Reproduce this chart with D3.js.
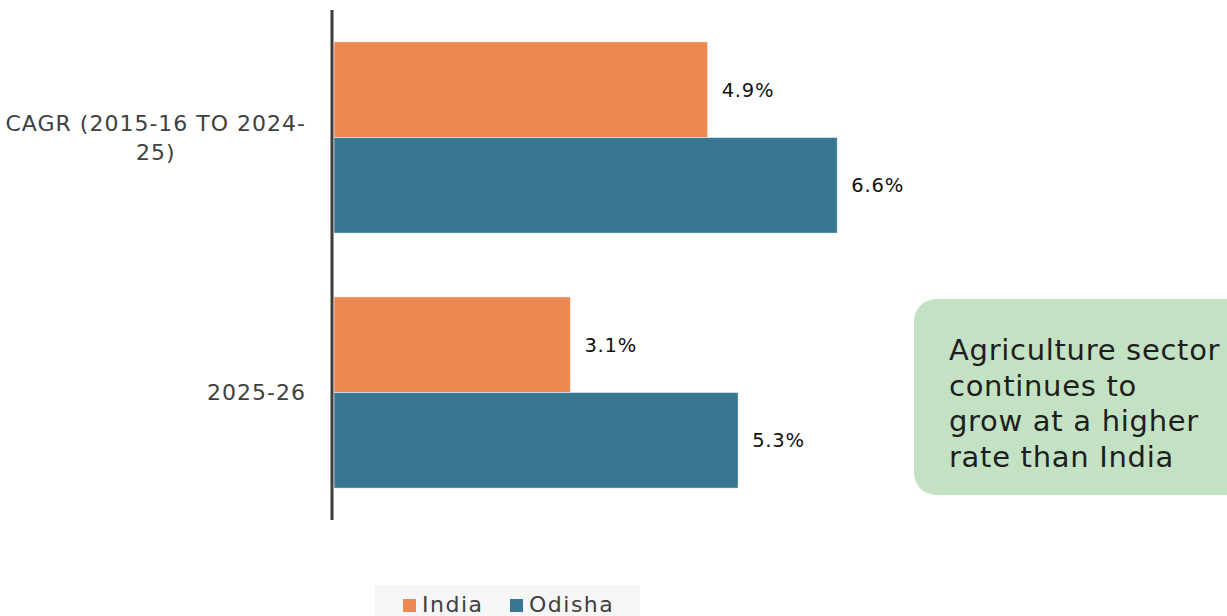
<!DOCTYPE html>
<html lang="en">
<head>
  <meta charset="UTF-8">
  <title>Agriculture growth: India vs Odisha</title>
  <style type="text/css">
    html, body { margin: 0; padding: 0; background: #fff; }
    svg { display: block; font-family: "DejaVu Sans", "Open Sans", sans-serif; }
  </style>
</head>
<body>
<div id="chart"></div>
<script src="https://cdn.jsdelivr.net/npm/d3@7"></script>
<script type="text/javascript">
  // chart values
  var categories = ["CAGR (2015-16 TO 2024-25)", "2025-26"];
  var seriesNames = ["India", "Odisha"];
  var indiaValues = [4.9, 3.1];
  var odishaValues = [6.6, 5.3];
  var note = ["Agriculture sector", "continues to", "grow at a higher", "rate than India"];

  var width = 1227, height = 616;
  var colors = {India: "#ec8851", Odisha: "#377792"};

  var rows = categories.map(function(c, i) {
    return {category: c, India: indiaValues[i], Odisha: odishaValues[i]};
  });

  var svg = d3.select("#chart").append("svg")
    .attr("width", width)
    .attr("height", height);

  var x = d3.scaleLinear().domain([0, 8]).range([334, 944]);
  var y = d3.scaleBand().domain(categories).range([10, 520])
    .paddingInner(0.25).paddingOuter(0.125);
  var ySub = d3.scaleBand().domain(seriesNames).range([0, y.bandwidth()]);

  // bars
  var groups = svg.selectAll("g.group")
    .data(rows)
    .join("g")
    .attr("class", "group")
    .attr("transform", function(d) { return "translate(0," + y(d.category) + ")"; });

  var bars = groups.selectAll("g.bar")
    .data(function(d) { return seriesNames.map(function(s) { return {key: s, value: d[s]}; }); })
    .join("g")
    .attr("class", "bar");

  bars.append("rect")
    .attr("x", x(0))
    .attr("y", function(d) { return ySub(d.key); })
    .attr("width", function(d) { return x(d.value) - x(0); })
    .attr("height", ySub.bandwidth())
    .attr("fill", function(d) { return colors[d.key]; })
    .attr("stroke", "#ffffff")
    .attr("stroke-opacity", 0.5)
    .attr("stroke-width", 1);

  bars.append("text")
    .attr("x", function(d) { return x(d.value) + 14; })
    .attr("y", function(d) { return ySub(d.key) + ySub.bandwidth() / 2; })
    .attr("dy", "0.35em")
    .attr("font-size", 19.5)
    .attr("letter-spacing", 0.8)
    .attr("fill", "#111")
    .text(function(d) { return d.value.toFixed(1) + "%"; });

  // category axis
  var yAxis = svg.append("g")
    .attr("transform", "translate(332,0)")
    .call(d3.axisLeft(y).tickSize(0).tickPadding(26).tickFormat(""));
  yAxis.select(".domain")
    .attr("d", "M0,10V520")
    .attr("stroke", "#3d3d3d")
    .attr("stroke-width", 3);

  // wrapped labels: block right-aligned, lines centred inside it
  function wrapWords(text) {
    return text.match(/[^\s-]+-?\s*/g);
  }
  var labelFont = 22, labelSpacing = 1, maxW = 305, lineH = 29;
  var measure = svg.append("text").attr("font-size", labelFont)
    .attr("letter-spacing", labelSpacing).attr("visibility", "hidden");
  function textW(s) { measure.text(s); return measure.node().getComputedTextLength(); }

  categories.forEach(function(cat) {
    var tokens = wrapWords(cat), lines = [], cur = "";
    tokens.forEach(function(t) {
      if (cur && textW((cur + t).trim()) > maxW) { lines.push(cur.trim()); cur = t; }
      else cur += t;
    });
    if (cur) lines.push(cur.trim());
    var blockW = d3.max(lines, textW);
    var right = 306;
    var cy = y(cat) + y.bandwidth() / 2;
    var t = svg.append("text")
      .attr("font-size", labelFont)
      .attr("letter-spacing", labelSpacing)
      .attr("fill", "#404040")
      .attr("text-anchor", "middle");
    lines.forEach(function(l, i) {
      t.append("tspan")
        .attr("x", right - blockW / 2)
        .attr("y", cy + (i - (lines.length - 1) / 2) * lineH)
        .attr("dy", "0.35em")
        .text(l);
    });
  });
  measure.remove();

  // note box
  svg.append("rect")
    .attr("x", 914).attr("y", 299)
    .attr("width", 340).attr("height", 196)
    .attr("rx", 22)
    .attr("fill", "#c3e2c4");
  svg.append("text")
    .attr("font-size", 29)
    .attr("letter-spacing", 0.7)
    .attr("fill", "#1e1e1e")
    .selectAll("tspan")
    .data(note)
    .join("tspan")
    .attr("x", 949)
    .attr("y", function(d, i) { return 360 + i * 35.5; })
    .text(function(d) { return d; });

  // legend
  var legend = svg.append("g");
  legend.append("rect")
    .attr("x", 375).attr("y", 585)
    .attr("width", 265).attr("height", 40)
    .attr("fill", "#f6f6f6");
  var legX = [403, 510];
  seriesNames.forEach(function(s, i) {
    legend.append("rect")
      .attr("x", legX[i]).attr("y", 599)
      .attr("width", 13).attr("height", 13)
      .attr("fill", colors[s]);
    legend.append("text")
      .attr("x", legX[i] + 19).attr("y", 612)
      .attr("font-size", 22)
      .attr("letter-spacing", 1.5)
      .attr("fill", "#404040")
      .text(s);
  });
</script>
</body>
</html>
